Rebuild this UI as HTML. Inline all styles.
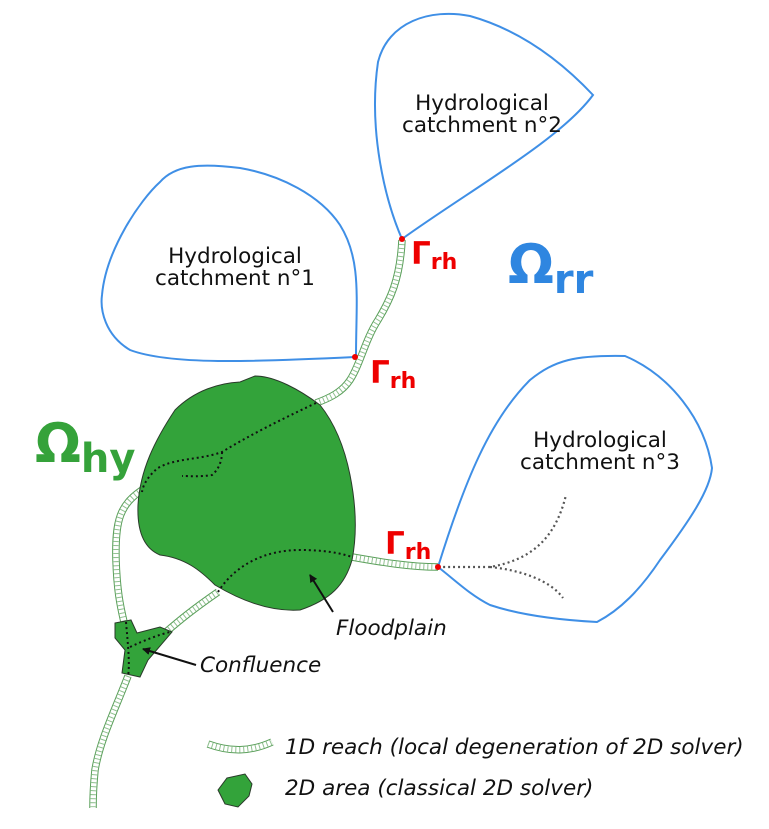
<!DOCTYPE html>
<html><head><style>body{margin:0;background:#fff}</style></head><body>
<svg width="769" height="824" viewBox="0 0 769 824" xmlns="http://www.w3.org/2000/svg" font-family="'DejaVu Sans','Liberation Sans',sans-serif">
<defs>
<marker id="ah" markerWidth="8" markerHeight="8" refX="7" refY="4" orient="auto" markerUnits="userSpaceOnUse"><path d="M0,0 L8,4 L0,8 Z" fill="#111"/></marker>
</defs>
<g fill="none" stroke="#3f8fe6" stroke-width="2">
<path d="M355,357 C250,362 170,365 130,350 C105,335 100,310 102,295 C106,250 140,200 160,182 C175,165 200,163 240,168 C280,175 320,195 340,225 C362,260 356,300 356,357"/>
<path d="M402,239 C385,200 368,130 378,62 C388,22 430,8 470,16 C520,30 560,60 593,95 C560,140 470,190 402,239 Z"/>
<path d="M438,567 C465,480 490,420 530,380 C555,360 575,355 625,356 C670,375 705,420 712,468 C710,490 690,520 660,560 C640,590 620,610 597,622 C560,620 520,615 490,605 C470,595 455,580 438,567 Z"/>
</g>
<defs>
<path id="p1" d="M402,240 C400,280 390,300 378,320 C365,340 360,365 350,380 C342,392 330,398 316,403"/>
<path id="p2" d="M142,490 C120,505 115,520 116,560 C117,590 120,605 124,622"/>
<path id="p3" d="M166,632 C180,620 192,610 218,592"/>
<path id="p4" d="M352,557 C380,562 410,567 438,567"/>
<path id="p5" d="M128,676 C115,710 100,740 95,770 C93,790 93,800 93,808"/>
<path id="p6" d="M208,744 C230,752 250,752 272,742"/>
</defs>
<g fill="none">
<g stroke="#5a9f5a" stroke-width="7.5"><use href="#p1"/><use href="#p2"/><use href="#p3"/><use href="#p4"/><use href="#p5"/><use href="#p6"/></g>
<g stroke="#fff" stroke-width="5.5"><use href="#p1"/><use href="#p2"/><use href="#p3"/><use href="#p4"/><use href="#p5"/><use href="#p6"/></g>
<g stroke="#8fc08f" stroke-width="5.5" stroke-dasharray="1 3"><use href="#p1"/><use href="#p2"/><use href="#p3"/><use href="#p4"/><use href="#p5"/><use href="#p6"/></g>
</g>
<path d="M255,376 C275,376 300,390 320,405 C336,425 345,450 350,475 C356,505 357,535 352,560 C345,585 330,600 300,610 C270,612 240,600 215,585 C200,570 185,558 160,555 C143,548 137,530 138,505 C140,470 155,440 175,410 C195,390 220,383 240,382 Z" fill="#33a33a" stroke="#2a3a2a" stroke-width="1"/>
<path d="M115,623 L131,620 L137,633 L160,627 L172,632 L148,660 L140,677 L122,673 L125,650 L115,638 Z" fill="#33a33a" stroke="#2a3a2a" stroke-width="1"/>
<path d="M227,778 L245,774 L252,784 L249,796 L238,807 L225,804 L218,790 Z" fill="#33a33a" stroke="#2a3a2a" stroke-width="1"/>
<g fill="none" stroke="#111" stroke-width="2" stroke-dasharray="2 3">
<path d="M316,403 C280,420 250,435 222,452 C200,460 175,458 158,468 C148,476 143,485 142,492"/>
<path d="M222,452 C222,462 218,470 212,475 C200,477 190,476 182,476"/>
<path d="M218,592 C235,565 265,550 300,550 C325,550 340,553 352,557"/>
<path d="M126,622 C128,645 130,665 128,676"/>
<path d="M130,647 C145,640 158,635 170,632"/>
</g>
<g fill="none" stroke="#555" stroke-width="2.2" stroke-dasharray="2 3">
<path d="M438,567 C460,567 480,567 490,567 C530,560 555,540 566,495"/>
<path d="M490,567 C520,570 550,580 563,598"/>
</g>
<line x1="333" y1="612" x2="310" y2="575" stroke="#111" stroke-width="2" marker-end="url(#ah)"/>
<line x1="196" y1="665" x2="143" y2="649" stroke="#111" stroke-width="2" marker-end="url(#ah)"/>
<g fill="#e00"><circle cx="402" cy="239" r="3"/><circle cx="355" cy="357" r="3"/><circle cx="438" cy="567" r="3"/></g>
<g font-size="21.5" fill="#111" text-anchor="middle">
<text x="235" y="263">Hydrological</text><text x="235" y="285">catchment n°1</text>
<text x="482" y="110">Hydrological</text><text x="482" y="132">catchment n°2</text>
<text x="600" y="447">Hydrological</text><text x="600" y="469">catchment n°3</text>
</g>
<g font-size="21.5" fill="#111" font-style="italic">
<text x="336" y="635">Floodplain</text>
<text x="200" y="672">Confluence</text>
<text x="285" y="754">1D reach (local degeneration of 2D solver)</text>
<text x="285" y="795">2D area (classical 2D solver)</text>
</g>
<g fill="#e00" font-weight="bold">
<text x="411" y="264" font-size="31">Γ<tspan font-size="22" dy="5">rh</tspan></text>
<text x="370" y="383" font-size="31">Γ<tspan font-size="22" dy="5">rh</tspan></text>
<text x="385" y="554" font-size="31">Γ<tspan font-size="22" dy="5">rh</tspan></text>
</g>
<text x="508" y="283" font-size="54" font-weight="bold" fill="#2f86e0">Ω<tspan font-size="40" dy="10">rr</tspan></text>
<text x="35" y="462" font-size="54" font-weight="bold" fill="#35a23a">Ω<tspan font-size="40" dy="10">hy</tspan></text>
</svg>
</body></html>
